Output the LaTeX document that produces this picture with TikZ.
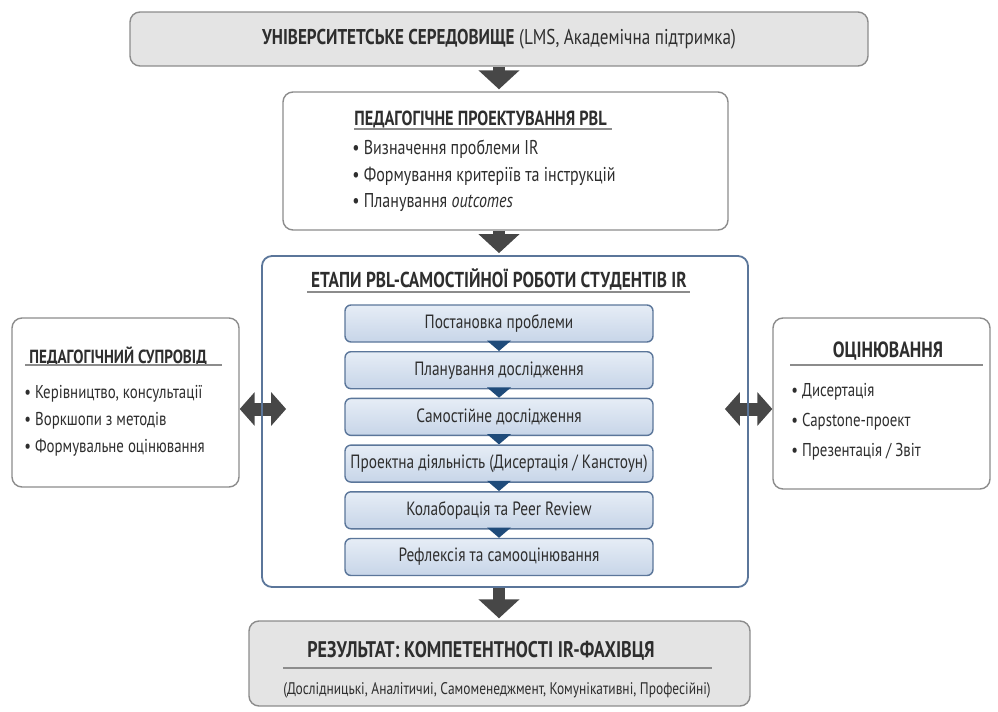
\documentclass[tikz,border=0pt]{standalone}
\usepackage{fontspec}
\setmainfont{PT Sans}[FakeStretch=0.8]
\usetikzlibrary{arrows.meta, positioning, backgrounds}

\definecolor{boxgray}{HTML}{E4E4E4}
\definecolor{linegray}{HTML}{8C8C8C}
\definecolor{stageblue}{HTML}{5B769A}
\definecolor{steptop}{HTML}{E6EDF6}
\definecolor{stepbot}{HTML}{C7D5E8}
\definecolor{stepdark}{HTML}{1F4B7A}
\definecolor{arrowgray}{HTML}{474747}
\definecolor{txt}{HTML}{2E2E2E}

\begin{document}
\begin{tikzpicture}[x=0.5pt, y=-0.5pt,
    every node/.style={text=txt, font=\fontsize{9.3}{11}\selectfont},
    box/.style={draw=linegray, line width=0.7pt, rounded corners=5pt, inner sep=0pt},
    ttl/.style={font=\fontsize{#1}{12}\selectfont\bfseries, inner sep=1pt},
    ttl/.default=9.3,
    item/.style={anchor=west, inner sep=0pt},
    rule/.style={draw=linegray, line width=0.6pt},
    stepbox/.style={draw=stageblue, line width=0.7pt, rounded corners=3pt,
        top color=steptop, bottom color=stepbot, font=\fontsize{9.6}{11}\selectfont,
        minimum width=154pt, minimum height=18.5pt, inner sep=0pt},
    bigarrow/.style={arrowgray, line width=6pt, -{Triangle[width=20pt, length=9.5pt]}},
    dblarrow/.style={arrowgray, line width=6.5pt,
        {Triangle[width=16.5pt, length=7.5pt]}-{Triangle[width=16.5pt, length=7.5pt]}}
  ]
    \useasboundingbox (0,0) rectangle (998,712);

    % University environment
    \node[box, fill=boxgray, minimum width=369pt, minimum height=27pt,
        font=\fontsize{10.7}{12}\selectfont] (env) at (499,39)
        {{\bfseries УНІВЕРСИТЕТСЬКЕ СЕРЕДОВИЩЕ} (LMS, Академічна підтримка)};

    % PBL design
    \node[box, fill=white, minimum width=222.5pt, minimum height=69pt] (design) at (505.5,161) {};
    \node[ttl=10.2, anchor=west] (designT) at (352,119) {ПЕДАГОГІЧНЕ ПРОЕКТУВАННЯ PBL};
    \draw[rule] (354,129) -- (612,129);
    \begin{scope}[every node/.style={text=txt, font=\fontsize{10}{12}\selectfont}]
        \node[item] (d1) at (352,149) {• Визначення проблеми IR};
        \node[item] (d2) at (352,176) {• Формування критеріїв та інструкцій};
        \node[item] (d3) at (352,203) {• Планування \textit{outcomes}};
    \end{scope}

    % Stages of independent work
    \node[box, draw=stageblue, line width=0.9pt, minimum width=243pt, minimum height=165.5pt] (stages) at (505,421.5) {};
    \node[ttl=10.8] (stagesT) at (499,279) {ЕТАПИ PBL-САМОСТІЙНОЇ РОБОТИ СТУДЕНТІВ IR};
    \draw[rule] (307,292) -- (690,292);
    \foreach \t [count=\i] in {Постановка проблеми, Планування дослідження, Самостійне дослідження,
        {Проектна діяльність (Дисертація / Канстоун)}, Колаборація та Peer Review, Рефлексія та самооцінювання}
        \node[stepbox] (s\i) at (499,{323.5+46.7*(\i-1)}) {\t};
    \foreach \i in {1,...,5} {
        \pgfmathtruncatemacro\j{\i+1}
        \fill[stepdark] ([xshift=-6pt,yshift=1pt]s\i.south) -- ([xshift=6pt,yshift=1pt]s\i.south) -- (s\j.north) -- cycle;
    }

    % Pedagogical support
    \node[box, fill=white, minimum width=113.5pt, minimum height=84.5pt] (supp) at (125.5,402.5) {};
    \node[ttl=9.5, anchor=west] (suppT) at (27,356) {ПЕДАГОГІЧНИЙ СУПРОВІД};
    \draw[rule] (25,365) -- (222,365);
    \node[item] (p1) at (24,394) {• Керівництво, консультації};
    \node[item] (p2) at (24,421) {• Воркшопи з методів};
    \node[item] (p3) at (24,448) {• Формувальне оцінювання};

    % Assessment
    \node[box, fill=white, minimum width=108.5pt, minimum height=85.5pt] (eval) at (881.5,403.5) {};
    \node[ttl=11] (evalT) at (888,351) {ОЦІНЮВАННЯ};
    \draw[rule] (790,365) -- (983,365);
    \node[item] (e1) at (791,392) {• Дисертація};
    \node[item] (e2) at (791,422) {• Capstone-проект};
    \node[item] (e3) at (791,452) {• Презентація / Звіт};

    % Result
    \node[box, fill=boxgray, minimum width=250.5pt, minimum height=42.5pt] (res) at (499.5,663.5) {};
    \node[ttl=11.3] (resT) at (481,651) {РЕЗУЛЬТАТ: КОМПЕТЕНТНОСТІ IR-ФАХІВЦЯ};
    \draw[rule] (283,668) -- (712,668);
    \node[font=\fontsize{8.4}{10}\selectfont, inner sep=0pt] (resS) at (497,690)
        {(Дослідницькі, Аналітичиі, Самоменеджмент, Комунікативні, Професійні)};

    % Arrows
    \begin{scope}[on background layer]
        \draw[bigarrow, shorten >=1pt] (env.south) -- (env.south |- design.north);
        \draw[bigarrow, shorten >=1pt] (s1 |- design.south) -- (s1 |- stages.north);
        \draw[bigarrow, shorten >=1pt] (s6 |- stages.south) -- (s6 |- res.north);
        \draw[dblarrow, shorten >=-12.5pt] ([yshift=-3.25pt]supp.east) -- ([yshift=-3.25pt]supp.east -| stages.west);
        \draw[dblarrow, shorten <=-12pt] ([yshift=-2.75pt]eval.west -| stages.east) -- ([yshift=-2.75pt]eval.west);
    \end{scope}
\end{tikzpicture}
\end{document}
